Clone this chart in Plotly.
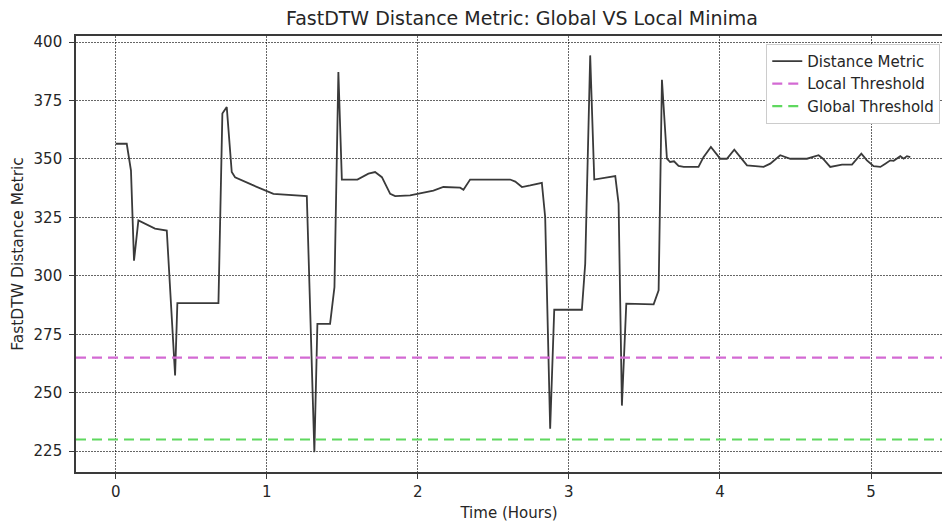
import plotly.graph_objects as go

# ---- data ----
time_hours = [0.000, 0.073, 0.101, 0.121, 0.150, 0.260, 0.338, 0.393, 0.408, 0.680,
              0.706, 0.735, 0.768, 0.790, 0.900, 1.044, 1.265, 1.315, 1.335, 1.419,
              1.448, 1.474, 1.497, 1.600, 1.673, 1.717, 1.762, 1.817, 1.850, 1.949,
              2.103, 2.169, 2.280, 2.302, 2.346, 2.611, 2.645, 2.689, 2.744, 2.821,
              2.843, 2.876, 2.903, 3.086, 3.108, 3.141, 3.168, 3.307, 3.329, 3.351,
              3.380, 3.561, 3.594, 3.616, 3.649, 3.670, 3.696, 3.726, 3.760, 3.858,
              3.891, 3.940, 3.975, 4.002, 4.046, 4.095, 4.135, 4.179, 4.289, 4.333,
              4.399, 4.466, 4.576, 4.653, 4.682, 4.730, 4.808, 4.874, 4.936, 4.973,
              5.017, 5.062, 5.095, 5.128, 5.150, 5.194, 5.216, 5.238, 5.260]
distance = [356.5, 356.5, 345.0, 306.5, 323.7, 320.2, 319.4, 257.4, 288.3, 288.3,
            369.4, 372.2, 344.4, 342.2, 339.0, 335.1, 334.1, 224.6, 279.5, 279.5,
            295.2, 387.2, 341.2, 341.2, 343.7, 344.4, 342.2, 335.1, 334.1, 334.4,
            336.5, 338.0, 337.7, 336.8, 341.2, 341.2, 340.3, 338.0, 338.7, 339.8,
            325.1, 234.6, 285.5, 285.5, 305.2, 394.3, 341.2, 342.7, 330.9, 244.5,
            288.1, 287.8, 293.8, 383.9, 350.1, 348.7, 349.0, 347.0, 346.6, 346.6,
            350.8, 355.1, 352.3, 350.1, 350.1, 354.0, 350.8, 347.3, 346.6, 348.0,
            351.6, 350.1, 350.1, 351.6, 350.1, 346.6, 347.6, 347.6, 352.3, 349.4,
            346.9, 346.6, 348.0, 349.4, 349.2, 351.2, 350.1, 351.2, 350.8]
local_threshold = 265
global_threshold = 230
y_ticks = [225, 250, 275, 300, 325, 350, 375, 400]
x_ticks = [0, 1, 2, 3, 4, 5]

FONT = "DejaVu Sans"
TXT = "#262626"
x_range = [-0.263, 5.47]

fig = go.Figure()
fig.add_trace(go.Scatter(x=time_hours, y=distance, mode="lines", name="Distance Metric",
                         line=dict(color="#3a3a3a", width=1.8)))
fig.add_trace(go.Scatter(x=x_range, y=[local_threshold, local_threshold], mode="lines",
                         name="Local Threshold",
                         line=dict(color="#d36ad3", width=2.2, dash="10px,6px")))
fig.add_trace(go.Scatter(x=x_range, y=[global_threshold, global_threshold], mode="lines",
                         name="Global Threshold",
                         line=dict(color="#5fd85f", width=2.2, dash="10px,6px")))

fig.update_layout(
    width=942, height=523,
    margin=dict(l=76, r=0, t=36, b=51),
    paper_bgcolor="white", plot_bgcolor="white",
    font=dict(family=FONT, size=15, color=TXT),
    title=dict(text="FastDTW Distance Metric: Global VS Local Minima",
               x=0.515, xref="paper", xanchor="center",
               y=1 - 18 / 523, yref="container", yanchor="middle",
               font=dict(family=FONT, size=19, color=TXT)),
    showlegend=True,
    legend=dict(x=0.998, y=0.982, xanchor="right", yanchor="top",
                bgcolor="white", bordercolor="#cccccc", borderwidth=1,
                itemwidth=30,
                font=dict(family=FONT, size=15, color=TXT)),
)
fig.update_xaxes(range=x_range, tickvals=x_ticks, ticktext=[str(v) for v in x_ticks],
                 showgrid=True, gridcolor="rgba(0,0,0,0.6)", griddash="1.5px,1.5px", gridwidth=1.3,
                 zeroline=False, showline=True, linecolor="#3a3a3a", linewidth=1.6,
                 mirror=True, ticks="outside", ticklen=5, tickcolor="#3a3a3a",
                 tickfont=dict(family=FONT, size=15, color=TXT),
                 title=dict(text="Time (Hours)", font=dict(family=FONT, size=15, color=TXT),
                            standoff=8))
fig.update_yaxes(range=[216.1, 402.6], tickvals=y_ticks, ticktext=[str(v) for v in y_ticks],
                 showgrid=True, gridcolor="rgba(0,0,0,0.6)", griddash="1.5px,1.5px", gridwidth=1.3,
                 zeroline=False, showline=True, linecolor="#3a3a3a", linewidth=1.6,
                 ticks="outside", ticklen=5, tickcolor="#3a3a3a", ticklabelstandoff=4,
                 tickfont=dict(family=FONT, size=15, color=TXT),
                 title=dict(text="FastDTW Distance Metric",
                            font=dict(family=FONT, size=15.5, color=TXT), standoff=6))

fig.write_html("out.html")
